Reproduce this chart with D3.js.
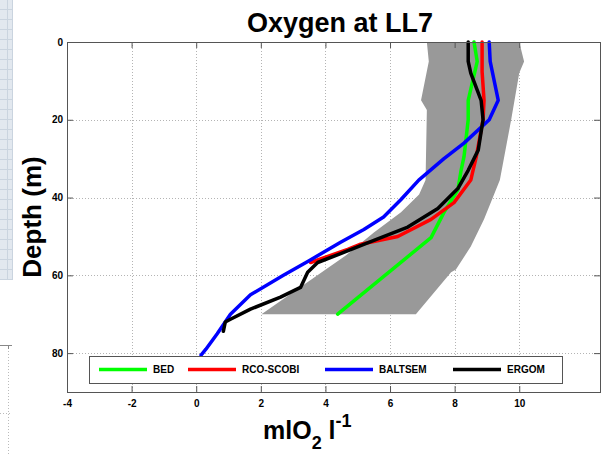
<!DOCTYPE html>
<html>
<head>
<meta charset="utf-8">
<script src="https://cdn.jsdelivr.net/npm/d3@7"></script>
<style>
  body { margin: 0; background: #fff; }
  svg { display: block; font-family: "Liberation Sans", Arial, sans-serif; }
</style>
</head>
<body>
<div id="chart"></div>
<script>
// [O2 (ml/l), depth (m)] pairs
const bed = [[8.6, 0], [8.7, 5], [8.42, 15], [8.42, 20], [8.29, 29.5], [8.2, 33], [8.1, 38],
  [7.67, 43.8], [7.27, 50.3], [4.38, 70]];
const rcoScobi = [[8.85, 0], [8.85, 7.6], [8.91, 15], [8.88, 20], [8.82, 22.6], [8.67, 29.5],
  [8.57, 33], [8.5, 35.5], [7.98, 41.3], [7.27, 45.6], [6.24, 50], [5.09, 52], [4.69, 53.3], [3.54, 56.7]];
const baltsem = [[9.07, 0], [9.1, 5], [9.35, 15], [9.07, 20], [8.29, 26], [7.67, 30], [6.89, 35.5],
  [6.34, 40.5], [5.8, 45], [5.19, 48.2], [4.47, 51.5], [3.48, 56.3], [2.7, 60], [1.68, 65],
  [1.06, 70], [0.65, 75], [0.3, 79], [0.15, 80.5]];
const ergom = [[8.42, 0], [8.42, 5], [8.5, 8], [8.82, 15], [8.88, 20], [8.73, 27.8], [8.42, 33],
  [8.1, 37.7], [7.48, 42.8], [6.55, 47.6], [5.5, 51], [4.47, 54.4], [3.76, 56.7], [3.45, 59.2],
  [3.23, 63.1], [2.61, 65.6], [1.68, 68.7], [1.06, 71.3], [0.9, 72], [0.84, 74.4]];

// observation envelope (grey band)
const bandLow = [[7.14, 0], [7.2, 5], [6.96, 15], [7.14, 17.5], [7.1, 35.5], [6.9, 39.2], [6.34, 43.8],
  [5.5, 49], [4.63, 54.9], [2.02, 70]];
const bandHigh = [[10.0, 0], [10.15, 5], [10.0, 8], [9.75, 20], [9.4, 35.5], [9.22, 39.2], [8.91, 45.6],
  [8.5, 52.6], [8.04, 58.5], [7.89, 59.2], [6.8, 70]];

const seriesNames = ['BED', 'RCO-SCOBI', 'BALTSEM', 'ERGOM'];
const xTicks = [-4, -2, 0, 2, 4, 6, 8, 10];
const yTicks = [0, 20, 40, 60, 80];

const seriesData = [bed, rcoScobi, baltsem, ergom];
const colors = ['#00ff00', '#ff0000', '#0000ff', '#000000'];

const width = 608;
const height = 454;
const plot = { left: 67, top: 42, right: 600, bottom: 392 };

const svg = d3.select('#chart')
  .append('svg')
  .attr('width', width)
  .attr('height', height);

// screenshot leftovers on the left edge
const strip = svg.append('g');
strip.append('rect')
  .attr('x', 0).attr('y', 0).attr('width', 13).attr('height', 280)
  .attr('fill', '#e2e8ef');
strip.selectAll('line.h')
  .data(d3.range(9, 280, 10))
  .join('line')
  .attr('x1', 0).attr('x2', 13)
  .attr('y1', (d) => d + 0.5).attr('y2', (d) => d + 0.5)
  .attr('stroke', '#cad4df');
strip.append('line')
  .attr('x1', 7.5).attr('x2', 7.5).attr('y1', 0).attr('y2', 280)
  .attr('stroke', '#cad4df');
strip.append('line')
  .attr('x1', 12.5).attr('x2', 12.5).attr('y1', 0).attr('y2', 280)
  .attr('stroke', '#cad4df');

const ghost = svg.append('g');
ghost.append('line')
  .attr('x1', 0).attr('x2', 12).attr('y1', 345.5).attr('y2', 345.5)
  .attr('stroke', '#888');
ghost.append('line')
  .attr('x1', 8.5).attr('x2', 8.5).attr('y1', 345).attr('y2', 454)
  .attr('stroke', '#bbb').attr('stroke-dasharray', '1,2');
ghost.append('line')
  .attr('x1', 8.5).attr('x2', 8.5).attr('y1', 345).attr('y2', 349)
  .attr('stroke', '#888');
ghost.append('line')
  .attr('x1', 0).attr('x2', 12).attr('y1', 413.5).attr('y2', 413.5)
  .attr('stroke', '#bbb').attr('stroke-dasharray', '1,2');

const x = d3.scaleLinear()
  .domain([-4, 12.5])
  .range([plot.left, plot.right]);

const y = d3.scaleLinear()
  .domain([0, 90])
  .range([plot.top, plot.bottom]);

// dotted grid
const grid = svg.append('g')
  .attr('stroke', '#b4b4b4')
  .attr('stroke-dasharray', '1,2');

grid.selectAll('line.gx')
  .data(xTicks.slice(1))
  .join('line')
  .attr('x1', (d) => Math.round(x(d)) + 0.5)
  .attr('x2', (d) => Math.round(x(d)) + 0.5)
  .attr('y1', plot.top)
  .attr('y2', plot.bottom);

grid.selectAll('line.gy')
  .data(yTicks.slice(1))
  .join('line')
  .attr('x1', plot.left)
  .attr('x2', plot.right)
  .attr('y1', (d) => Math.round(y(d)) + 0.5)
  .attr('y2', (d) => Math.round(y(d)) + 0.5);

// band
const bandPoly = bandLow.concat(bandHigh.slice().reverse());
svg.append('path')
  .datum(bandPoly)
  .attr('fill', '#999999')
  .attr('d', d3.line().x((d) => x(d[0])).y((d) => y(d[1])));

// profiles
const line = d3.line()
  .x((d) => x(d[0]))
  .y((d) => y(d[1]));

svg.append('g')
  .selectAll('path')
  .data(seriesData)
  .join('path')
  .attr('fill', 'none')
  .attr('stroke', (d, i) => colors[i])
  .attr('stroke-width', 3.5)
  .attr('stroke-linejoin', 'round')
  .attr('stroke-linecap', 'round')
  .attr('d', line);

// axes with inward ticks on all four sides
const fmt = (d) => String(d);

const axisStyle = (g) => {
  g.select('.domain').remove();
  g.selectAll('.tick line').attr('stroke', '#555');
  g.selectAll('.tick text')
    .attr('fill', '#000')
    .attr('font-size', 10)
    .attr('font-weight', 'bold')
    .attr('font-family', '"Liberation Sans", Arial, sans-serif');
};

svg.append('g')
  .attr('transform', `translate(0, ${plot.bottom})`)
  .call(d3.axisBottom(x).tickValues(xTicks).tickFormat(fmt).tickSize(-6).tickPadding(8))
  .call(axisStyle);

svg.append('g')
  .attr('transform', `translate(0, ${plot.top})`)
  .call(d3.axisTop(x).tickValues(xTicks).tickFormat('').tickSize(-6))
  .call(axisStyle);

svg.append('g')
  .attr('transform', `translate(${plot.left}, 0)`)
  .call(d3.axisLeft(y).tickValues(yTicks).tickFormat(fmt).tickSize(-6).tickPadding(4))
  .call(axisStyle);

svg.append('g')
  .attr('transform', `translate(${plot.right}, 0)`)
  .call(d3.axisRight(y).tickValues(yTicks).tickFormat('').tickSize(-6))
  .call(axisStyle);

svg.append('rect')
  .attr('x', plot.left + 0.5)
  .attr('y', plot.top + 0.5)
  .attr('width', plot.right - plot.left)
  .attr('height', plot.bottom - plot.top)
  .attr('fill', 'none')
  .attr('stroke', '#555');

// legend
const legend = svg.append('g');
legend.append('rect')
  .attr('x', 89.5).attr('y', 356.5)
  .attr('width', 473).attr('height', 27)
  .attr('fill', '#fff')
  .attr('stroke', '#555');

const legendX = [99, 188, 325, 453];
const item = legend.selectAll('g.item')
  .data(seriesNames)
  .join('g')
  .attr('transform', (d, i) => `translate(${legendX[i]}, 369.5)`);

item.append('line')
  .attr('x1', 0).attr('x2', 48)
  .attr('stroke', (d, i) => colors[i])
  .attr('stroke-width', 3.5);

item.append('text')
  .attr('x', 54)
  .attr('y', 3.6)
  .attr('font-size', 10)
  .attr('font-weight', 'bold')
  .text((d) => d);

// titles
svg.append('text')
  .attr('x', 340)
  .attr('y', 32)
  .attr('text-anchor', 'middle')
  .attr('font-size', 27)
  .attr('font-weight', 'bold')
  .text('Oxygen at LL7');

svg.append('text')
  .attr('transform', 'translate(41, 217) rotate(-90)')
  .attr('text-anchor', 'middle')
  .attr('font-size', 26)
  .attr('font-weight', 'bold')
  .text('Depth (m)');

const xLabel = svg.append('text')
  .attr('x', 263)
  .attr('y', 439)
  .attr('font-size', 25)
  .attr('font-weight', 'bold');
xLabel.append('tspan').text('mlO');
xLabel.append('tspan').attr('font-size', 18).attr('dy', 10).text('2');
xLabel.append('tspan').attr('dy', -10).text(' l');
xLabel.append('tspan').attr('font-size', 18).attr('dy', -12).text('-1');
</script>
</body>
</html>
